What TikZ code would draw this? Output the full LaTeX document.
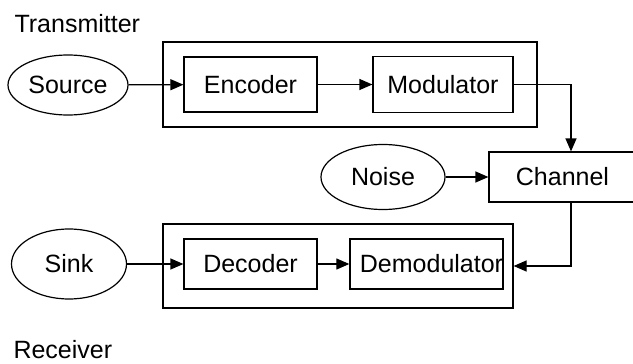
\documentclass[tikz,border=0pt]{standalone}
\usepackage{fontspec}
\setmainfont{Liberation Sans}
\usetikzlibrary{arrows.meta,shapes.geometric}
\tikzset{
  block/.style={draw, line width=1.2pt, inner sep=0pt},
  blob/.style={draw, ellipse, line width=1.2pt, inner sep=0pt},
  link/.style={line width=1.2pt, -{Triangle[length=13pt,width=11pt]}}
}
\begin{document}
\begin{tikzpicture}[x=1pt, y=-1pt, font=\fontsize{25}{30}\selectfont]
          \useasboundingbox (0,0) rectangle (633,364);

          % Transmitter side
          \node[anchor=base west] (txlabel) at (11,32) {Transmitter};
          \node[block, minimum width=374pt, minimum height=85pt] (txbox) at (350,84.5) {};
          \node[blob, minimum width=120pt, minimum height=60pt] (source) at (68,85) {Source};
          \node[block, minimum width=133pt, minimum height=55pt] (encoder) at (250.5,84.5) {Encoder};
          \node[block, minimum width=140pt, minimum height=56pt] (modulator) at (443,84.5) {Modulator};

          % Channel and noise
          \node[block, minimum width=147pt, minimum height=50pt] (channel) at (562.5,177) {Channel};
          \node[blob, minimum width=124pt, minimum height=65pt] (noise) at (383,177) {Noise};

          % Receiver side
          \node[block, minimum width=350pt, minimum height=84pt] (rxbox) at (338,266) {};
          \node[blob, minimum width=115pt, minimum height=70pt] (sink) at (69,264) {Sink};
          \node[block, minimum width=133pt, minimum height=50pt] (decoder) at (250.5,264) {Decoder};
          \node[block, minimum width=149pt, minimum height=50pt] (demodulator) at (426.5,264) {\hspace{10pt}Demodulator};
          \node[anchor=base west] (rxlabel) at (10,358) {Receiver};

          % Connectors
          \draw[link] (source) -- (encoder);
          \draw[link] (encoder) -- (modulator);
          \draw[link] (modulator.east) -| ([xshift=8.5pt]channel.north);
          \draw[link] (noise) -- (channel);
          \draw[link] ([xshift=8.5pt]channel.south) |- (rxbox.east);
          \draw[link] (sink) -- (decoder);
          \draw[link] (decoder) -- (demodulator);
        \end{tikzpicture}
\end{document}
